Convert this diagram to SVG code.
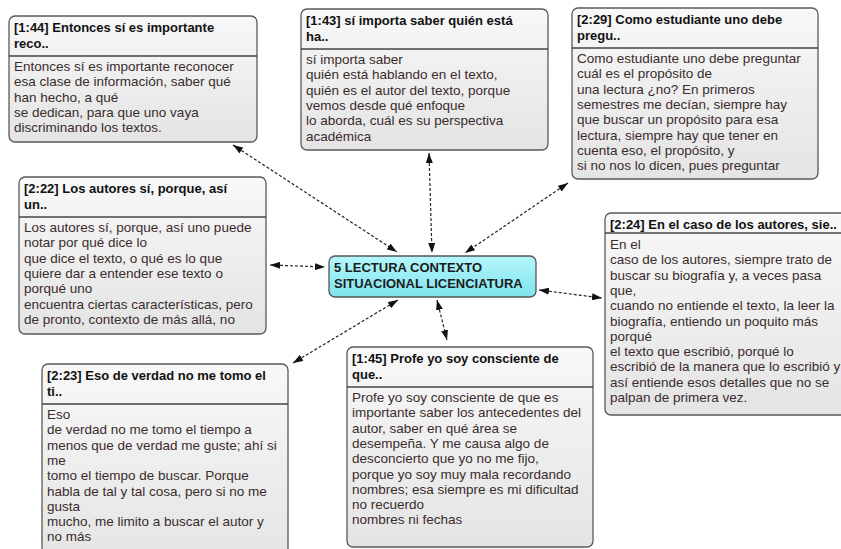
<svg xmlns="http://www.w3.org/2000/svg" width="841" height="549" viewBox="0 0 841 549">
<defs>
<linearGradient id="gq" x1="0" y1="0" x2="0" y2="1"><stop offset="0" stop-color="#f8f8f8"/><stop offset="1" stop-color="#e4e4e4"/></linearGradient>
<linearGradient id="gc" x1="0" y1="0" x2="0" y2="1"><stop offset="0" stop-color="#b4f7fb"/><stop offset="1" stop-color="#7fe3ee"/></linearGradient>
<marker id="ah" viewBox="0 0 10 7" refX="10" refY="3.5" markerWidth="10" markerHeight="7" markerUnits="userSpaceOnUse" orient="auto-start-reverse"><path d="M0,0 L10,3.5 L0,7 z" fill="#111"/></marker>
<style>
.box{fill:url(#gq);stroke:#5a5a5a;stroke-width:1.3}
.div{stroke:#444;stroke-width:1.5}
.t{font-family:"Liberation Sans",Arial,sans-serif;font-size:13px;font-weight:bold;fill:#111}
.b{font-family:"Liberation Sans",Arial,sans-serif;font-size:13.5px;fill:#3a2c2c}
.c{font-family:"Liberation Sans",Arial,sans-serif;font-size:13px;font-weight:bold;fill:#1c1c1c}
.ln{stroke:#222;stroke-width:1.2;stroke-dasharray:3,2;fill:none;marker-start:url(#ah);marker-end:url(#ah)}
</style>
</defs>
<g id="connectors">
<line class="ln" x1="233" y1="145" x2="397" y2="252"/>
<line class="ln" x1="429" y1="153" x2="432" y2="253"/>
<line class="ln" x1="568" y1="183" x2="465" y2="253"/>
<line class="ln" x1="270" y1="265" x2="325" y2="267"/>
<line class="ln" x1="539" y1="290" x2="602" y2="298"/>
<line class="ln" x1="293" y1="363" x2="398" y2="300"/>
<line class="ln" x1="437" y1="300" x2="447" y2="340"/>
</g>
<g id="n144">
<rect class="box" x="9" y="16" width="248" height="126" rx="6"/>
<line class="div" x1="9" y1="56" x2="257" y2="56"/>
<text class="t" x="14" y="32">[1:44] Entonces sí es importante</text>
<text class="t" x="14" y="48">reco..</text>
<text class="b" x="14" y="71">Entonces sí es importante reconocer</text>
<text class="b" x="14" y="86.3">esa clase de información, saber qué</text>
<text class="b" x="14" y="101.6">han hecho, a qué</text>
<text class="b" x="14" y="116.9">se dedican, para que uno vaya</text>
<text class="b" x="14" y="132.2">discriminando los textos.</text>
</g>
<g id="n143">
<rect class="box" x="301" y="9" width="247" height="141" rx="6"/>
<line class="div" x1="301" y1="49" x2="548" y2="49"/>
<text class="t" x="306" y="25">[1:43] sí importa saber quién está</text>
<text class="t" x="306" y="41">ha..</text>
<text class="b" x="306" y="64">sí importa saber</text>
<text class="b" x="306" y="79.3">quién está hablando en el texto,</text>
<text class="b" x="306" y="94.6">quién es el autor del texto, porque</text>
<text class="b" x="306" y="109.9">vemos desde qué enfoque</text>
<text class="b" x="306" y="125.2">lo aborda, cuál es su perspectiva</text>
<text class="b" x="306" y="140.5">académica</text>
</g>
<g id="n229">
<rect class="box" x="572" y="8" width="246" height="171" rx="6"/>
<line class="div" x1="572" y1="48" x2="818" y2="48"/>
<text class="t" x="577" y="24">[2:29] Como estudiante uno debe</text>
<text class="t" x="577" y="40">pregu..</text>
<text class="b" x="577" y="63">Como estudiante uno debe preguntar</text>
<text class="b" x="577" y="78.3">cuál es el propósito de</text>
<text class="b" x="577" y="93.6">una lectura ¿no? En primeros</text>
<text class="b" x="577" y="108.9">semestres me decían, siempre hay</text>
<text class="b" x="577" y="124.2">que buscar un propósito para esa</text>
<text class="b" x="577" y="139.5">lectura, siempre hay que tener en</text>
<text class="b" x="577" y="154.8">cuenta eso, el propósito, y</text>
<text class="b" x="577" y="170.1">si no nos lo dicen, pues preguntar</text>
</g>
<g id="n222">
<rect class="box" x="19" y="177" width="247" height="157" rx="6"/>
<line class="div" x1="19" y1="217" x2="266" y2="217"/>
<text class="t" x="24" y="193">[2:22] Los autores sí, porque, así</text>
<text class="t" x="24" y="209">un..</text>
<text class="b" x="24" y="232">Los autores sí, porque, así uno puede</text>
<text class="b" x="24" y="247.3">notar por qué dice lo</text>
<text class="b" x="24" y="262.6">que dice el texto, o qué es lo que</text>
<text class="b" x="24" y="277.9">quiere dar a entender ese texto o</text>
<text class="b" x="24" y="293.2">porqué uno</text>
<text class="b" x="24" y="308.5">encuentra ciertas características, pero</text>
<text class="b" x="24" y="323.8">de pronto, contexto de más allá, no</text>
</g>
<g id="n224">
<rect class="box" x="605" y="213" width="250" height="202" rx="6"/>
<line class="div" x1="605" y1="233" x2="855" y2="233"/>
<text class="t" x="610" y="229">[2:24] En el caso de los autores, sie..</text>
<text class="b" x="610" y="249">En el</text>
<text class="b" x="610" y="264.3">caso de los autores, siempre trato de</text>
<text class="b" x="610" y="279.6">buscar su biografía y, a veces pasa</text>
<text class="b" x="610" y="294.9">que,</text>
<text class="b" x="610" y="310.2">cuando no entiende el texto, la leer la</text>
<text class="b" x="610" y="325.5">biografía, entiendo un poquito más</text>
<text class="b" x="610" y="340.8">porqué</text>
<text class="b" x="610" y="356.1">el texto que escribió, porqué lo</text>
<text class="b" x="610" y="371.4">escribió de la manera que lo escribió y</text>
<text class="b" x="610" y="386.7">así entiende esos detalles que no se</text>
<text class="b" x="610" y="402">palpan de primera vez.</text>
</g>
<g id="n223">
<rect class="box" x="42" y="364" width="246" height="200" rx="6"/>
<line class="div" x1="42" y1="404" x2="288" y2="404"/>
<text class="t" x="47" y="380">[2:23] Eso de verdad no me tomo el</text>
<text class="t" x="47" y="396">ti..</text>
<text class="b" x="47" y="419">Eso</text>
<text class="b" x="47" y="434.3">de verdad no me tomo el tiempo a</text>
<text class="b" x="47" y="449.6">menos que de verdad me guste; ahí si</text>
<text class="b" x="47" y="464.9">me</text>
<text class="b" x="47" y="480.2">tomo el tiempo de buscar. Porque</text>
<text class="b" x="47" y="495.5">habla de tal y tal cosa, pero si no me</text>
<text class="b" x="47" y="510.8">gusta</text>
<text class="b" x="47" y="526.1">mucho, me limito a buscar el autor y</text>
<text class="b" x="47" y="541.4">no más</text>
</g>
<g id="n145">
<rect class="box" x="347" y="347" width="246" height="200" rx="6"/>
<line class="div" x1="347" y1="387" x2="593" y2="387"/>
<text class="t" x="352" y="363">[1:45] Profe yo soy consciente de</text>
<text class="t" x="352" y="379">que..</text>
<text class="b" x="352" y="402">Profe yo soy consciente de que es</text>
<text class="b" x="352" y="417.3">importante saber los antecedentes del</text>
<text class="b" x="352" y="432.6">autor, saber en qué área se</text>
<text class="b" x="352" y="447.9">desempeña. Y me causa algo de</text>
<text class="b" x="352" y="463.2">desconcierto que yo no me fijo,</text>
<text class="b" x="352" y="478.5">porque yo soy muy mala recordando</text>
<text class="b" x="352" y="493.8">nombres; esa siempre es mi dificultad</text>
<text class="b" x="352" y="509.1">no recuerdo</text>
<text class="b" x="352" y="524.4">nombres ni fechas</text>
</g>
<g id="center">
<rect x="329" y="256" width="207" height="41" rx="6" fill="url(#gc)" stroke="#555" stroke-width="1.3"/>
<text class="c" x="334" y="272">5 LECTURA CONTEXTO</text>
<text class="c" x="334" y="288">SITUACIONAL LICENCIATURA</text>
</g>
</svg>
